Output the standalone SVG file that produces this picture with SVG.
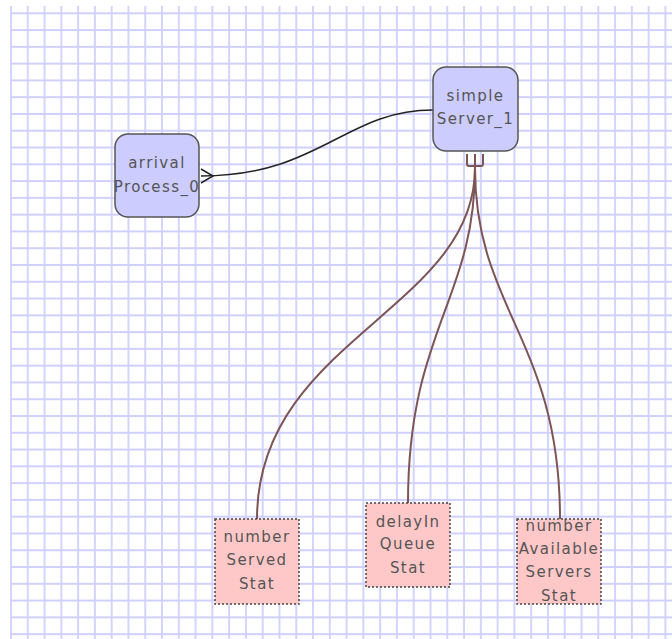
<svg xmlns="http://www.w3.org/2000/svg" width="672" height="639" viewBox="0 0 672 639">
<defs>
<pattern id="grid" patternUnits="userSpaceOnUse" x="10" y="12.3" width="16.78" height="16.78">
<path d="M1,0V16.78M0,1H16.78" stroke="#d0d0ff" stroke-width="1.8" fill="none"/>
</pattern>
<style>
.proc rect{fill:#ccccff;stroke:#555;stroke-width:1.5}
.stat rect{fill:#ffc8c8;stroke:#444;stroke-width:1.5;stroke-dasharray:2,2}
text{font-family:"DejaVu Sans",sans-serif;font-size:15px;fill:#555;text-anchor:middle;letter-spacing:1.4px}
.ctl{fill:none;stroke:#222;stroke-width:1.5}
.stl{fill:none;stroke:#7d5555;stroke-width:2}
</style>
</defs>
<rect x="0" y="0" width="672" height="639" fill="#fff"/>
<rect x="10" y="6" width="662" height="633" fill="url(#grid)"/>
<g id="connectors">
<path class="ctl" d="M433,110 C345,110 320,176 201,176"/>
<path class="ctl" d="M201,169 L213,176 L201,183"/>
<path class="stl" d="M467,154 V164 Q467,166 469,166 H481 Q483,166 483,164 V154 M475,154 V170"/>
<path class="stl" d="M475,168 C475,310 257,340 257,519"/>
<path class="stl" d="M475,168 C475,300 408,330 408,503"/>
<path class="stl" d="M475,168 C475,310 560,340 560,519"/>
</g>
<g id="arrivalProcess_0" class="proc">
<rect x="115" y="134" width="84" height="83" rx="13"/>
<text x="157" y="168">arrival</text>
<text x="157" y="192">Process_0</text>
</g>
<g id="simpleServer_1" class="proc">
<rect x="433" y="67" width="85" height="84" rx="13"/>
<text x="475.5" y="101">simple</text>
<text x="475.5" y="124">Server_1</text>
</g>
<g id="numberServedStat" class="stat">
<rect x="215" y="519" width="84" height="85"/>
<text x="257" y="542">number</text>
<text x="257" y="565">Served</text>
<text x="257" y="589">Stat</text>
</g>
<g id="delayInQueueStat" class="stat">
<rect x="366" y="503" width="84" height="84"/>
<text x="408" y="527">delayIn</text>
<text x="408" y="549">Queue</text>
<text x="408" y="573">Stat</text>
</g>
<g id="numberAvailableServersStat" class="stat">
<rect x="517" y="519" width="84" height="85"/>
<text x="559" y="531">number</text>
<text x="559" y="554">Available</text>
<text x="559" y="577">Servers</text>
<text x="559" y="601">Stat</text>
</g>
</svg>
